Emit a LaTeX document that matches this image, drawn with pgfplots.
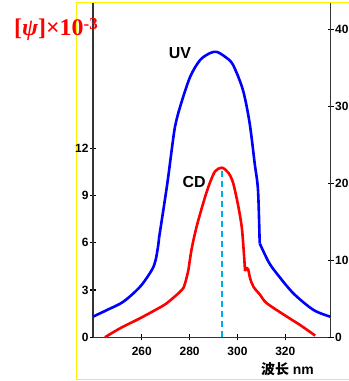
\documentclass[border=0pt]{standalone}
\usepackage{pgfplots}
\pgfplotsset{compat=1.18}
\usepackage{fontspec}
\setmainfont{Liberation Sans}
\newfontfamily\serif{Liberation Serif}
\newfontfamily\cjk{Noto Sans CJK SC}
\begin{document}
\begin{tikzpicture}[x=1bp,y=1bp]
\useasboundingbox (0,0) rectangle (349,381);
\draw[yellow, line width=1.2bp] (76.7,1.8) rectangle (360,378.6);
\pgfplotsset{
  base/.style={
    at={(93bp,43.7bp)}, anchor=south west, scale only axis,
    width=237.7bp, height=334.3bp,
    xmin=239.6, xmax=339, ymin=0,
    tick align=inside, major tick length=6bp,
    tick style={line width=1.3bp, black},
    ticklabel style={font=\bfseries\fontsize{12}{14}\selectfont},
    /pgf/number format/assume math mode=true,
    clip=false,
  },
  noarrow/.style={
    x axis line style={-},
    y axis line style={-},
    axis line style={-, line width=1.1bp, black!80},
  },
  cur/.style={line width=2.6bp, line join=round, smooth, tension=0.5},
}
\begin{axis}[base,
  ymax=21.23,
  axis x line=bottom, axis y line=left, noarrow,
  xtick={260,280,300,320}, ytick={0,3,6,9,12},
  xticklabel style={yshift=-3bp},
  yticklabel style={xshift=2bp},
]
\addplot[cyan, line width=2bp, dash pattern=on 6.5bp off 3.5bp] coordinates {(293.5,0) (293.5,10.77)};
\addplot[red, cur] coordinates {
(244.6,0) (250.9,0.57) (259.3,1.21) (265.6,1.73) (270.4,2.16) (276.7,3.0)
(278.1,3.43) (279.5,4.27)};
\addplot[red, cur] coordinates {
(279.5,4.27) (280.9,5.65) (283.1,7.13) (286.5,8.93) (288.6,9.86)
(290.7,10.55) (293.5,10.77) (296.2,10.45) (298.2,9.8) (300.4,8.29)
(301.8,7.0) (302.5,5.75) (303.2,4.2)};
\addplot[red, cur] coordinates {
(303.2,4.2) (303.7,4.4) (304.5,4.3) (305.3,3.75) (306.7,3.21)
(309.5,2.69) (312.3,2.16) (320.7,1.31) (326.2,0.78) (332.5,0.11)
};
\node[font=\bfseries\fontsize{16}{18}\selectfont] at (axis cs:281.9,9.88) {CD};
\end{axis}
\begin{axis}[base,
  ymax=43.4,
  axis x line=none, axis y line=right, noarrow,
  ytick={0,10,20,30,40},
  yticklabel style={anchor=west, xshift=-2bp},
]
\addplot[blue, cur] coordinates {
(239.6,2.68) (245.9,3.61) (252.3,4.62) (259.3,6.57) (264.2,8.74) (265.8,10.04)
(266.9,11.99) (267.2,12.86)};
\addplot[blue, cur] coordinates {
(267.2,12.86) (270.6,19.8) (272.5,24.3) (273.9,27.35) (276.0,29.9)
(280.2,33.8) (284.4,36.0) (288.6,36.9) (291.4,37.05) (294.9,36.4) (298.1,35.4)
(302.3,32.1) (305.1,27.8) (307.2,22.6) (308.6,19.1) (309.3,12.2)};
\addplot[blue, cur] coordinates {
(309.3,12.2) (313.0,9.8)
(316.4,8.3) (323.4,5.7) (331.8,3.55) (338.8,2.68)
};
\node[font=\bfseries\fontsize{16}{18}\selectfont] at (axis cs:276.0,36.9) {UV};
\end{axis}
\node[anchor=base west, text=red, inner sep=0pt] at (14,346)
  {\serif\bfseries\fontsize{24}{28}\selectfont [{\itshape ψ}]×10\raisebox{6bp}{\fontsize{17}{20}\selectfont -3}};
\node[font=\bfseries\fontsize{14}{16}\selectfont] at (287.5,12) {{\cjk\bfseries 波长} nm};
\end{tikzpicture}
\end{document}
